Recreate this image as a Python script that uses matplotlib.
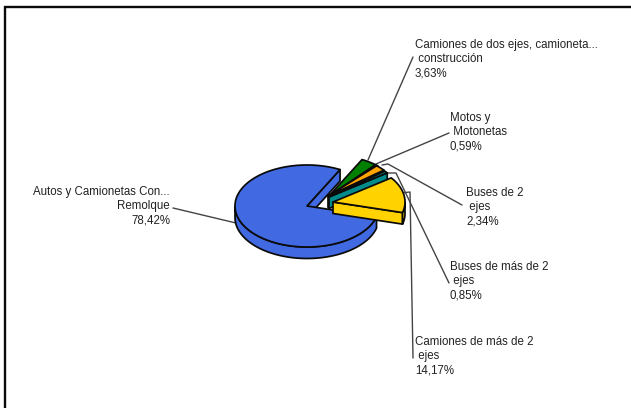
import numpy as np
import matplotlib
matplotlib.use("Agg")
import matplotlib.pyplot as plt
from matplotlib.patches import Polygon

categories = ["Camiones de más de 2\n ejes", "Buses de más de 2\n ejes", "Buses de 2\n ejes",
              "Motos y\n Motonetas", "Camiones de dos ejes, camioneta...\n construcción",
              "Autos y Camionetas Con...\nRemolque"]
shares = [14.17, 0.85, 2.34, 0.59, 3.63, 78.42]
share_labels = ["14,17%", "0,85%", "2,34%", "0,59%", "3,63%", "78,42%"]
colors = ["#FFD200", "#008B8B", "#FFA500", "#0B1A0B", "#008000", "#4169E1"]
explode_px = [(26, -4), (22, -9), (21, -10), (22, -10), (22, -10), (0, 0)]

CX, CY, RX, RY, DEPTH = 307, 206, 72, 41, 11.5
START = -15.0

plt.rcParams["font.family"] = "Liberation Sans"
fig = plt.figure(figsize=(6.31, 4.08), dpi=100)
ax = fig.add_axes([0, 0, 1, 1])
ax.set_xlim(0, 631)
ax.set_ylim(408, 0)
ax.axis("off")

# frame: only the top and left sides show in the reference
ax.plot([5, 5, 631], [408, 7, 7], color="#0a0a0a", lw=1.7, solid_joinstyle="miter", zorder=1)


def pt(cx, cy, t):
    r = np.radians(t)
    return np.column_stack([cx + RX * np.cos(r), cy - RY * np.sin(r)])


def slice_draw(cx, cy, a0, a1, color, z):
    kw = dict(fc=color, ec="#0a0a0a", lw=1.25, joinstyle="round", zorder=z)
    # wall on the first edge of the slice, the one that looks into the gap
    p = pt(cx, cy, np.array([a0]))[0]
    ax.add_patch(Polygon([(cx, cy), p, p + [0, DEPTH], (cx, cy + DEPTH)], **kw))
    # outer rim for the front half of the ellipse
    ts = np.linspace(a0, a1, 300)
    front = ts[np.sin(np.radians(ts)) < 0]
    if len(front) > 1:
        rim = pt(cx, cy, front)
        ax.add_patch(Polygon(np.vstack([rim, (rim + [0, DEPTH])[::-1]]), **kw))
    ax.add_patch(Polygon(np.vstack([[(cx, cy)], pt(cx, cy, ts)]), **kw))


angle = START
spans = []
for s in shares:
    spans.append((angle, angle + s * 3.6))
    angle += s * 3.6

# large slice first, then the exploded ones from back to front
slice_draw(CX, CY, spans[5][0], spans[5][1], colors[5], 2)
for i in [4, 3, 2, 1, 0]:
    dx, dy = explode_px[i]
    slice_draw(CX + dx, CY + dy, spans[i][0], spans[i][1], colors[i], 3 + (4 - i))

leaders = [
    [(401, 193), (410, 192), (413, 358)],
    [(388, 173), (396, 173), (449, 283)],
    [(382, 165), (388, 164), (462, 205)],
    [(376, 164), (449, 133)],
    [(368, 160), (413, 57)],
    [(236, 223), (173, 208)],
]
for seg in leaders:
    xs, ys = zip(*seg)
    ax.plot(xs, ys, color="#444444", lw=1.0, zorder=1.5, solid_capstyle="round")

text_kw = dict(fontsize=8.3, color="#222222", va="top", linespacing=1.25, zorder=12)
label_pos = [(415, 336, "left"), (450, 261, "left"), (466, 187, "left"),
             (450, 112, "left"), (415, 39, "left"), (170, 186, "right")]
for cat, lab, (x, y, ha) in zip(categories, share_labels, label_pos):
    ax.text(x, y, cat + "\n" + lab, ha=ha, multialignment=ha, **text_kw)

fig.savefig("out.png", dpi=100)
